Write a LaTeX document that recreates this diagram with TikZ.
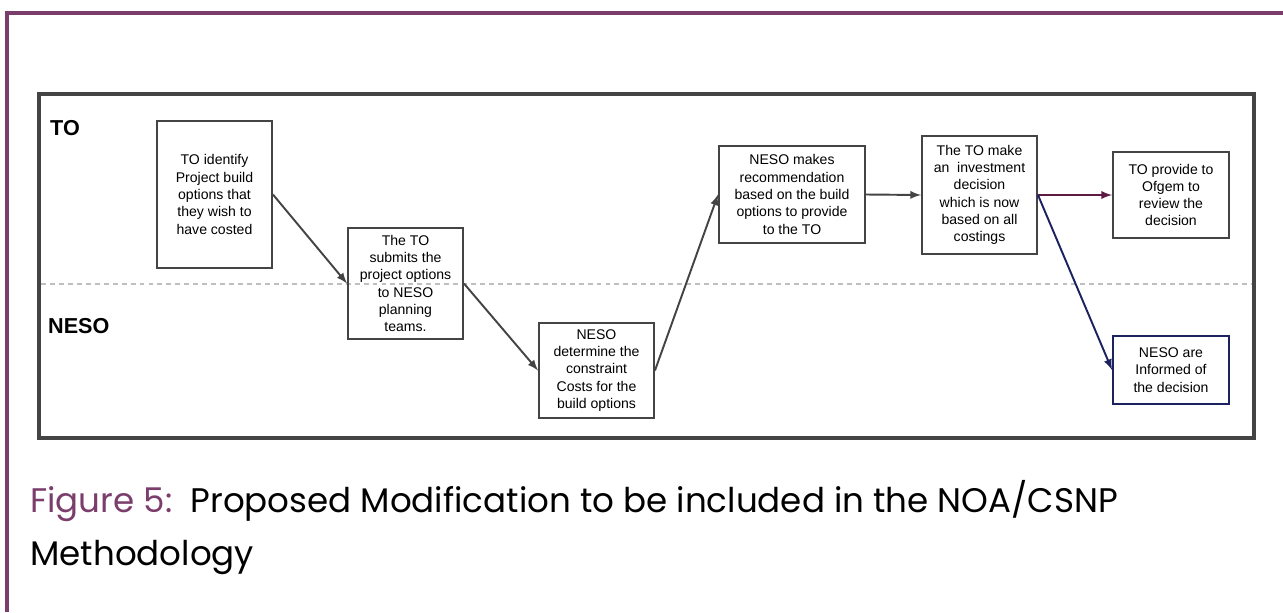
\documentclass[tikz,border=0pt]{standalone}
\usepackage{fontspec}
\setmainfont{Liberation Sans}
\newfontfamily\captionfont{Poppins}
\definecolor{figpurple}{HTML}{7B3D6C}
\definecolor{linkmaroon}{HTML}{5C1A45}
\definecolor{linknavy}{HTML}{1C2260}
\definecolor{boxgray}{HTML}{444444}
\tikzset{
  stepbox/.style={draw=boxgray,line width=1.1pt,align=center,inner sep=1pt,font=\fontsize{8}{9.85}\selectfont},
  link/.style={-latex,line width=1.1pt,draw=boxgray},
  lanelabel/.style={anchor=west,font=\fontsize{12.3}{14}\selectfont\bfseries}
}
\begin{document}
\begin{tikzpicture}[x=0.02cm,y=-0.02cm]

\useasboundingbox (0,0) rectangle (1283,612);

\draw[figpurple,line width=1.8pt] (7,612) -- (7,13) -- (1283,13);

\draw[boxgray,line width=2pt] (39,94) rectangle (1254,438);
\draw[gray!50,line width=0.6pt,dash pattern=on 2.8pt off 2.3pt] (41,284) -- (1252,284);

\node[lanelabel] (to) at (44,128) {TO};
\node[lanelabel] (neso) at (42,326) {NESO};

\node[stepbox,minimum width=2.3cm,minimum height=2.94cm] (identify) at (214.5,194.5)
  {TO identify\\Project build\\options that\\they wish to\\have costed};
\node[stepbox,minimum width=2.3cm,minimum height=2.22cm] (submit) at (405.5,283.5)
  {The TO\\submits the\\project options\\to NESO\\planning\\teams.};
\node[stepbox,minimum width=2.3cm,minimum height=1.9cm] (costs) at (596.5,370.5)
  {NESO\\determine the\\constraint\\Costs for the\\build options};
\node[stepbox,minimum width=2.92cm,minimum height=1.94cm] (recommend) at (792,194.5)
  {NESO makes\\recommendation\\based on the build\\options to provide\\to the TO};
\node[stepbox,minimum width=2.3cm,minimum height=2.36cm] (decide) at (979.5,195)
  {The TO make\\an\ \ investment\\decision\\which is now\\based on all\\costings};
\node[stepbox,minimum width=2.32cm,minimum height=1.72cm] (ofgem) at (1171,195)
  {TO provide to\\Ofgem to\\review the\\decision};
\node[stepbox,draw=linknavy,minimum width=2.32cm,minimum height=1.36cm] (informed) at (1171,370)
  {NESO are\\Informed of\\the decision};

\draw[link] (identify.east) -- (submit.west);
\draw[link] (submit.east) -- (costs.west);
\draw[link] (costs.east) -- (recommend.west);
\draw[link] (recommend.east) -- (decide.west);
\draw[link,draw=linkmaroon] (decide.east) -- (ofgem.west);
\draw[link,draw=linknavy] (decide.east) -- (informed.west);

\node[anchor=north west,align=left,inner sep=0pt,font=\captionfont\fontsize{19.4}{30.2}\selectfont] (caption) at (30,480)
  {\textcolor{figpurple}{Figure 5:}\ \ Proposed Modification to be included in the NOA/CSNP\\Methodology};

\end{tikzpicture}
\end{document}
